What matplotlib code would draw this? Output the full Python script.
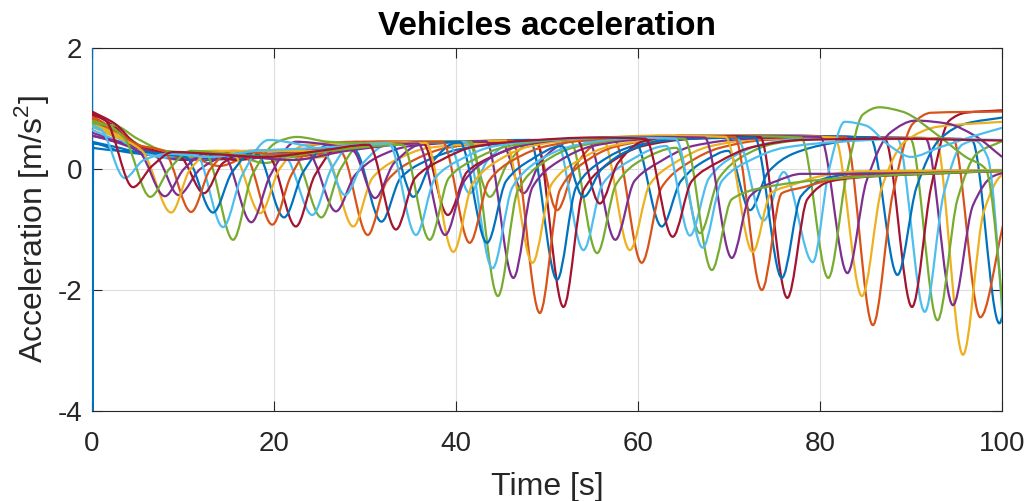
import numpy as np
import matplotlib
matplotlib.use("Agg")
import matplotlib.pyplot as plt
from matplotlib.path import Path
from matplotlib.patches import PathPatch

plt.rcParams['font.family'] = ['Liberation Sans', 'DejaVu Sans']
plt.rcParams['mathtext.fontset'] = 'custom'
plt.rcParams['mathtext.rm'] = 'Liberation Sans'
plt.rcParams['axes.unicode_minus'] = False

# MATLAB default line colours, cycled over the vehicles
colors = ['#0072BD', '#D95319', '#EDB120', '#7E2F8E', '#77AC30', '#4DBEEE', '#A2142F']

# acceleration samples (time [s], acceleration [m/s^2]) for each vehicle
v00 = [(0, 3.0), (0.03, -5.0), (0.12, 0.42), (3, 0.30), (7, 0.22), (12, 0.15), (18, 0.2), (24, 0.28),
       (28.8, 0.32), (31.8, -0.87), (33.9, -0.15), (36.5, 0.12), (40.5, 0.33), (46, 0.43), (59.6, 0.48),
       (62.6, -0.95), (64.7, -0.2), (67.5, 0.15), (69.9, 0.3), (72.3, -0.68), (74.3, -0.05), (77, 0.25),
       (81, 0.42), (85, 0.5), (95, 0.5), (96.7, 0.47), (99.7, -2.55), (101.5, -0.5)]
v01 = [(0, 0.85), (2.5, 0.6), (5, 0.35), (8, 0.3), (11, 0.2), (14, 0.05), (18, 0.25), (22, 0.2),
       (27.3, 0.28), (30.3, -1.09), (32.4, -0.2), (35.4, 0.15), (39, 0.35), (44, 0.43), (48.7, 0.45),
       (51.1, -0.68), (53.1, 0.05), (55.5, 0.42), (57.4, 0.47), (60.4, -1.55), (62.6, -0.3), (65.5, 0.1),
       (69, 0.35), (74, 0.48), (85, 0.52), (94.6, 0.5), (97.6, -2.45), (100, -1.0), (101.5, 0.0)]
v02 = [(0, 0.75), (3, 0.55), (6, 0.3), (9, 0.25), (13, 0.3), (18, 0.22), (22, 0.15), (25.7, 0.2),
       (28.7, -0.95), (30.8, -0.15), (33.4, 0.15), (37, 0.35), (44, 0.43), (56.1, 0.5), (59.1, -1.34),
       (61.3, -0.25), (64, 0.1), (68, 0.38), (74, 0.5), (90, 0.52), (92.7, 0.5), (95.7, -3.07),
       (98.0, -0.7), (100, -0.1), (102, 0.0)]
v03 = [(0, 0.6), (3, 0.45), (7.1, 0.2), (9.5, -0.43), (11.9, 0.0), (14.4, 0.2), (19, 0.3), (23.8, 0.25),
       (26.8, -0.7), (28.9, -0.1), (31.4, 0.2), (35, 0.38), (43, 0.45), (45.0, 0.44), (47.4, -0.4),
       (49.4, 0.15), (52.4, 0.45), (54.5, 0.48), (57.5, -1.17), (59.6, -0.2), (62.4, 0.12), (66, 0.38),
       (72, 0.5), (80, 0.53), (91.6, 0.5), (94.6, -2.25), (96.8, -0.6), (99, -0.12), (102, 0.0)]
v04 = [(0, 0.78), (3, 0.6), (6.5, 0.3), (10, 0.2), (15, 0.25), (19, 0.1), (22.2, 0.2), (25.2, -0.8),
       (27.3, 0.0), (29.9, 0.45), (35, 0.45), (41.3, 0.45), (43.7, -0.46), (45.7, 0.1), (48.4, 0.45),
       (52.5, 0.48), (55.5, -1.39), (57.6, -0.25), (60.4, 0.15), (64.2, 0.35), (66.8, -1.06), (68.9, -0.15),
       (71.4, 0.2), (75, 0.42), (80, 0.5), (89.9, 0.5), (92.9, -2.5), (95.1, -0.5), (97.2, 0.25),
       (100, 0.46)]
v05 = [(0, 0.65), (3, 0.45), (6, 0.25), (10, 0.15), (14, 0.2), (18, 0.25), (21.2, 0.2), (24.2, -0.76),
       (26.3, 0.0), (28.9, 0.45), (33, 0.42), (39.1, 0.44), (41.5, -0.4), (43.5, 0.15), (46.4, 0.45),
       (51.0, 0.48), (54.0, -1.34), (56.1, -0.25), (58.9, 0.12), (63.1, 0.38), (65.7, -1.1), (67.8, -0.15),
       (70.4, 0.2), (74, 0.42), (80, 0.52), (88.5, 0.5), (91.5, -2.36), (93.6, -0.4), (95.6, 0.4),
       (97.0, 0.47), (98.4, 0.2), (100.5, -3.3)]
v06 = [(0, 0.93), (2.5, 0.7), (5, 0.35), (8, 0.25), (12, 0.22), (16, 0.15), (19.4, 0.2), (22.4, -0.95),
       (24.5, -0.1), (27.4, 0.4), (32, 0.45), (40, 0.45), (48.8, 0.48), (51.8, -2.28), (54.0, -0.35),
       (56.9, 0.1), (60.5, 0.38), (66, 0.5), (75, 0.55), (87.1, 0.5), (90.1, -2.28), (92.2, -0.3),
       (94.2, 0.8), (96, 0.93), (100, 0.97)]
v07 = [(0, 0.45), (3, 0.35), (6, 0.25), (10, 0.28), (14, 0.2), (18.1, 0.25), (21.1, -0.8), (23.2, -0.05),
       (25.9, 0.4), (30, 0.43), (32.9, 0.42), (35.3, -0.46), (37.3, 0.1), (39.9, 0.43), (48.1, 0.48),
       (51.1, -1.83), (53.2, -0.3), (55.9, 0.12), (59.5, 0.38), (65, 0.5), (75, 0.55), (85.5, 0.52),
       (88.5, -1.75), (90.6, -0.3), (93.2, 0.5), (96, 0.75), (100, 0.85)]
v08 = [(0, 0.8), (3, 0.6), (6, 0.3), (9, 0.2), (13, 0.25), (16.8, 0.22), (19.8, -0.92), (21.9, -0.1),
       (24.4, 0.4), (29, 0.45), (38, 0.45), (46.2, 0.47), (49.2, -2.38), (51.4, -0.35), (54.0, 0.1),
       (57.5, 0.37), (63, 0.5), (72, 0.55), (82.8, 0.52), (85.8, -2.58), (88.0, -0.4), (90.2, 0.75),
       (92.2, 0.93), (100, 0.95)]
v09 = [(0, 0.7), (3, 0.5), (6, 0.35), (10, 0.22), (14, 0.28), (15.5, 0.25), (18.5, -0.73), (20.6, 0.0),
       (23.4, 0.4), (28, 0.42), (38, 0.45), (45.4, 0.47), (48.4, -1.55), (50.5, -0.25), (53.2, 0.12),
       (57, 0.38), (63, 0.5), (72, 0.55), (81.6, 0.52), (84.6, -2.1), (86.8, -0.3), (89.3, 0.45),
       (93, 0.7), (100, 0.78)]
v10 = [(0, 0.55), (3, 0.45), (6, 0.3), (10, 0.15), (14.5, 0.2), (17.5, -0.88), (19.6, -0.1), (22.4, 0.45),
       (26, 0.4), (28.7, 0.3), (31.1, -0.48), (33.2, 0.1), (36.4, 0.42), (43.3, 0.46), (46.3, -1.8),
       (48.4, -0.3), (51.2, 0.12), (55, 0.38), (61, 0.5), (70, 0.55), (80.0, 0.53), (83.0, -1.72),
       (85.1, -0.2), (87.7, 0.6), (90.5, 0.8), (94, 0.75), (97, 0.55), (100, 0.2)]
v11 = [(0, 0.75), (2.5, 0.72), (5, 0.5), (8, 0.3), (12.5, 0.25), (15.5, -1.17), (17.6, -0.1), (20.4, 0.45),
       (22.5, 0.53), (26, 0.45), (32, 0.42), (41.6, 0.45), (44.6, -2.1), (46.8, -0.35), (49.5, 0.1),
       (53, 0.36), (59, 0.5), (68, 0.55), (77.9, 0.52), (80.9, -1.8), (82.9, -0.1), (84.7, 0.9),
       (86.5, 1.02), (89, 0.95), (93, 0.55), (96, 0.2), (98.2, 0.0), (100.5, -2.9)]
v12 = [(0, 0.7), (2.5, 0.55), (5, 0.3), (8, 0.2), (11.4, 0.25), (14.4, -0.96), (16.5, -0.1), (19.4, 0.48),
       (23, 0.4), (25.4, 0.3), (27.8, -0.43), (29.8, 0.1), (32.4, 0.4), (41.0, 0.45), (44.0, -1.64),
       (46.2, -0.3), (48.9, 0.12), (52.5, 0.37), (58, 0.5), (67, 0.53), (70.9, 0.5), (73.8, -0.85),
       (76.0, -0.05), (79.2, -1.54), (81.0, 0.0), (82.7, 0.78), (85, 0.72), (87.5, 0.4), (90, 0.2),
       (93, 0.35), (97, 0.55), (100, 0.68)]
v13 = [(0, 0.95), (2.5, 0.75), (5, 0.4), (7.5, 0.28), (9.7, 0.2), (12.3, -0.4), (14.4, 0.1), (17.4, 0.3),
       (22, 0.3), (28, 0.35), (34, 0.42), (36.3, 0.44), (39.1, -0.76), (41.2, -0.05), (43.9, 0.2),
       (47.5, 0.4), (53.2, 0.5), (55.8, -0.57), (57.8, 0.1), (60.4, 0.45), (65, 0.55), (73.4, 0.53),
       (76.4, -2.13), (78.6, -0.5), (81.2, -0.2), (86, -0.12), (92, -0.08), (100, -0.03)]
v14 = [(0, 0.35), (3, 0.3), (6, 0.28), (8, 0.24), (10.3, 0.2), (13.3, -0.72), (15.4, -0.05), (17.9, 0.3),
       (22, 0.28), (28, 0.35), (34, 0.42), (40.4, 0.45), (43.4, -1.22), (45.5, -0.2), (48.2, 0.15),
       (51.6, 0.38), (54, -0.46), (56.0, 0.0), (58.9, 0.3), (63, 0.48), (72.8, 0.52), (75.8, -1.8),
       (77.9, -0.45), (80.7, -0.15), (85, -0.06), (100, -0.02)]
v15 = [(0, 0.88), (2.5, 0.65), (5, 0.4), (7.9, 0.3), (10.9, -0.71), (13.0, 0.0), (15.4, 0.3), (20, 0.25),
       (26, 0.3), (32, 0.4), (38.5, 0.45), (41.5, -1.22), (43.6, -0.2), (46.3, 0.15), (50, 0.38),
       (56, 0.5), (63, 0.55), (70.6, 0.53), (73.6, -2.0), (75.8, -0.4), (78.2, -0.3), (82, -0.15),
       (88, -0.06), (100, -0.04)]
v16 = [(0, 0.72), (2.5, 0.55), (5.5, 0.3), (8.7, -0.72), (10.8, 0.0), (13.4, 0.3), (18, 0.3),
       (24, 0.3), (30, 0.38), (36.7, 0.43), (39.7, -1.37), (41.8, -0.25), (44.4, 0.12), (48, 0.37),
       (54, 0.5), (62, 0.55), (69.6, 0.53), (72.6, -1.37), (74.6, -0.4), (77.2, -0.25), (80, -0.12),
       (84, -0.04), (100, -0.02)]
v17 = [(0, 0.55), (2.5, 0.45), (5.2, 0.28), (8.0, -0.45), (10.1, 0.0), (12.4, 0.25), (17, 0.2), (22, 0.15),
       (28, 0.3), (35.8, 0.42), (38.8, -1.09), (40.9, -0.2), (43.4, 0.15), (47, 0.38), (53, 0.5),
       (60, 0.53), (67.3, 0.52), (70.3, -1.47), (72.3, -0.45), (75.2, -0.2), (78, -0.08), (86, -0.08),
       (100, -0.03)]
v18 = [(0, 0.8), (2, 0.7), (3.6, 0.5), (6.4, -0.46), (8.5, 0.0), (10.9, 0.3), (15, 0.25), (20, 0.2),
       (26, 0.3), (34.1, 0.4), (37.1, -1.17), (39.2, -0.15), (41.9, 0.15), (45.5, 0.37), (51, 0.48),
       (58, 0.52), (65.1, 0.5), (68.1, -1.67), (70.3, -0.5), (74, -0.3), (80, -0.18), (88, -0.1),
       (100, -0.03)]
v19 = [(0, 0.72), (1.0, 0.65), (3.6, -0.15), (5.7, 0.15), (8.4, 0.25), (13, 0.2), (18, 0.3), (25, 0.35),
       (32.6, 0.42), (35.6, -1.09), (37.7, -0.15), (40.4, 0.15), (44, 0.37), (50, 0.48), (57, 0.52),
       (64.1, 0.5), (67.1, -1.3), (69.2, -0.2), (72.4, 0.15), (76, 0.35), (82, 0.45), (90, 0.5),
       (100, 0.48)]
v20 = [(0, 0.9), (1.5, 0.8), (4.5, -0.3), (6.6, 0.05), (8.9, 0.28), (13, 0.25), (19, 0.2), (25, 0.3),
       (30.4, 0.4), (33.4, -1.0), (35.5, -0.15), (38.4, 0.15), (42, 0.37), (48, 0.47), (55, 0.52),
       (60.8, 0.5), (63.8, -1.12), (65.9, -0.2), (68.9, 0.12), (72.5, 0.36), (78, 0.48), (88, 0.5),
       (100, 0.47)]

vehicles = [v00, v01, v02, v03, v04, v05, v06, v07, v08, v09, v10,
            v11, v12, v13, v14, v15, v16, v17, v18, v19, v20]

x_ticks = [0, 20, 40, 60, 80, 100]
y_ticks = [-4, -2, 0, 2]


def smooth_path(samples):
    # monotone cubic (Fritsch-Carlson) through the samples, as Bezier segments
    x = np.array([s[0] for s in samples], dtype=float)
    y = np.array([s[1] for s in samples], dtype=float)
    h = np.diff(x)
    d = np.diff(y) / h
    m = np.zeros_like(y)
    m[0], m[-1] = d[0], d[-1]
    for k in range(1, len(x) - 1):
        if d[k - 1] * d[k] > 0:
            w1 = 2 * h[k] + h[k - 1]
            w2 = h[k] + 2 * h[k - 1]
            m[k] = (w1 + w2) / (w1 / d[k - 1] + w2 / d[k])
    verts = [(x[0], y[0])]
    codes = [Path.MOVETO]
    for k in range(len(x) - 1):
        verts += [(x[k] + h[k] / 3, y[k] + m[k] * h[k] / 3),
                  (x[k + 1] - h[k] / 3, y[k + 1] - m[k + 1] * h[k] / 3),
                  (x[k + 1], y[k + 1])]
        codes += [Path.CURVE4] * 3
    return Path(verts, codes)


fig = plt.figure(figsize=(10.26, 5.01), dpi=100)
ax = fig.add_axes([0.0897, 0.1796, 0.8870, 0.7246])

for i, v in enumerate(vehicles):
    ax.add_patch(PathPatch(smooth_path(v), facecolor='none',
                           edgecolor=colors[i % len(colors)], lw=1.6, zorder=3))

ax.set_xlim(0, 100)
ax.set_ylim(-4, 2)
ax.set_xticks(x_ticks)
ax.set_yticks(y_ticks)
ax.grid(True, color='#dedede', lw=0.8)
ax.set_axisbelow(True)
for sp in ax.spines.values():
    sp.set_color('#262626')
    sp.set_linewidth(0.8)
ax.tick_params(direction='in', length=7, width=0.8, color='#262626',
               labelcolor='#262626', labelsize=20, top=True, right=True)
ax.tick_params(axis='x', pad=14.5)
ax.tick_params(axis='y', pad=7)

ax.set_xlabel('Time [s]', fontsize=23, color='#262626', labelpad=11)
ax.set_ylabel('Acceleration [m/s$^2$]', fontsize=23, color='#262626', labelpad=5)
ax.set_title('Vehicles acceleration', fontsize=24, fontweight='bold', pad=9)

fig.savefig('out.png', dpi=100)
